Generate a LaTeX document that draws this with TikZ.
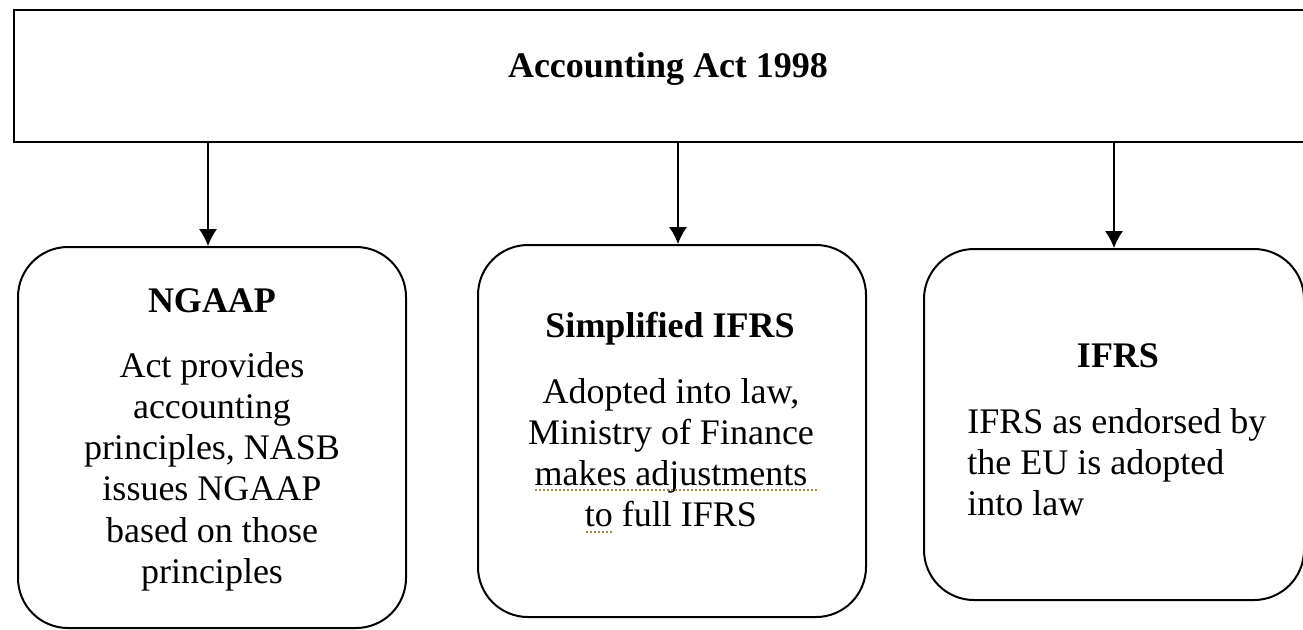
\documentclass[tikz,border=0pt]{standalone}
\usepackage{fontspec}
\setmainfont{Liberation Serif}
\usepackage{xcolor}
\usetikzlibrary{arrows.meta,positioning}
\definecolor{wordgold}{HTML}{B08A3E}

\begin{document}
\begin{tikzpicture}[x=0.5pt, y=-0.5pt,
  lawbox/.style={draw, rectangle, line width=1.2pt, inner sep=0pt,
                 minimum width=654pt, minimum height=66pt},
  regime/.style={draw, rectangle, rounded corners=25pt, line width=1pt,
                 inner sep=0pt, minimum width=194pt},
  head/.style={font=\fontsize{18pt}{20.6pt}\selectfont\bfseries,
               inner sep=0pt, anchor=base},
  body/.style={font=\fontsize{18pt}{20.6pt}\selectfont,
               inner sep=0pt, anchor=north, align=center},
  arr/.style={-{Latex[length=8.5pt,width=9pt]}, line width=0.6pt},
  squiggle/.style={draw=wordgold, line width=0.6pt,
                   dash pattern=on 1pt off 1pt}
]
  \clip (0,0) rectangle (1303,629);

  %% Act
  \node[lawbox] (act) at (668,76) {};
  \node[head] (acthd) at (668,77) {Accounting Act 1998};

  %% The three regimes
  \node[regime, minimum height=190.5pt] (ngaap) at (212,437.5) {};
  \node[regime, minimum height=186pt] (simp) at (672,431) {};
  \node[regime, minimum width=190pt, minimum height=175.5pt] (ifrs) at (1114,424.5) {};

  \node[head] (hd1) at (212,312) {NGAAP};
  \node[body] (txt1) at (212,352)
    {Act provides\\accounting\\principles, NASB\\issues NGAAP\\based on those\\principles};

  \node[head] (hd2) at (670,337) {Simplified IFRS};
  \node[body] (txt2) at (671,378)
    {Adopted into law,\\Ministry of Finance\\makes adjustments\\to full IFRS};

  \node[head] (hd3) at (1118,367) {IFRS};
  \node[body, anchor=north west, align=left] (txt3) at (967,408)
    {IFRS as endorsed by\\the EU is adopted\\into law};

  \draw[arr] ([xshift=-2pt]ngaap.north |- act.south) -- ([xshift=-2pt]ngaap.north);
  \draw[arr] ([xshift=3pt]simp.north |- act.south) -- ([xshift=3pt]simp.north);
  \draw[arr] (ifrs.north |- act.south) -- (ifrs.north);

  %% Word's grammar marks
  \draw[squiggle] (535,490) -- (817,490);
  \draw[squiggle] (586,532) -- (613,532);
\end{tikzpicture}
\end{document}
